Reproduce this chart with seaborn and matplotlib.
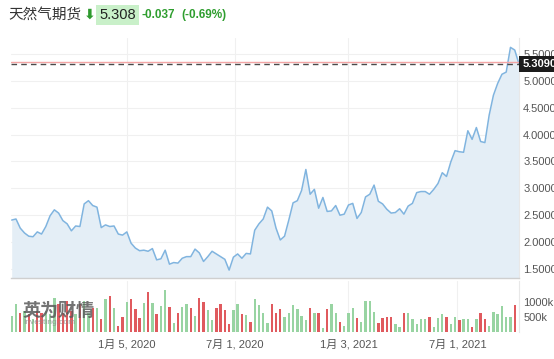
import numpy as np
import pandas as pd
import matplotlib
matplotlib.use("Agg")
import matplotlib.pyplot as plt
import matplotlib.transforms as mtransforms
from matplotlib.ticker import FormatStrFormatter
import seaborn as sns

# ---------------- data ----------------
start_date = "2019-06-30"
price = [2.41, 2.43, 2.26, 2.17, 2.11, 2.10, 2.19, 2.15, 2.29, 2.49,
         2.60, 2.54, 2.40, 2.34, 2.21, 2.30, 2.29, 2.71, 2.77, 2.68,
         2.65, 2.27, 2.32, 2.29, 2.30, 2.15, 2.13, 2.19, 1.98, 1.89,
         1.84, 1.85, 1.83, 1.88, 1.67, 1.69, 1.85, 1.59, 1.62, 1.61,
         1.70, 1.73, 1.73, 1.87, 1.80, 1.64, 1.73, 1.83, 1.78, 1.73,
         1.68, 1.48, 1.72, 1.78, 1.70, 1.79, 1.78, 2.22, 2.34, 2.43,
         2.65, 2.58, 2.26, 2.04, 2.11, 2.41, 2.73, 2.77, 2.96, 3.35,
         2.89, 2.98, 2.63, 2.83, 2.57, 2.58, 2.68, 2.50, 2.52, 2.69,
         2.72, 2.44, 2.55, 2.84, 2.89, 3.06, 2.76, 2.71, 2.61, 2.54,
         2.55, 2.62, 2.52, 2.67, 2.72, 2.92, 2.94, 2.94, 2.89, 2.98,
         3.09, 3.29, 3.22, 3.49, 3.70, 3.68, 3.67, 4.07, 3.91, 4.13,
         3.87, 3.85, 4.36, 4.73, 4.95, 5.12, 5.16, 5.62, 5.57, 5.31]

volume_k = [533, 921, 644, 700, 588, 420, 700, 644, 700, 588,
            1121, 921, 644, 1032, 700, 588, 921, 1032, 644, 810,
            810, 420, 1088, 1199, 810, 200, 500, 1010, 1110, 777,
            455, 955, 1321, 955, 588, 866, 1410, 833, 300, 644,
            833, 921, 810, 533, 1143, 1010, 722, 389, 810, 921,
            722, 278, 722, 921, 611, 566, 333, 1110, 899, 622,
            300, 944, 622, 755, 500, 644, 899, 777, 533, 389,
            810, 622, 622, 144, 777, 921, 622, 333, 200, 644,
            810, 477, 333, 1032, 1032, 677, 300, 477, 511, 511,
            278, 167, 622, 622, 444, 278, 444, 422, 511, 178,
            477, 588, 500, 255, 500, 389, 444, 422, 178, 444,
            644, 422, 200, 677, 611, 866, 500, 500, 899]

direction = list("GGRGRGRRGGGRRRRGRGGRGRGRGRRGRRRGRGRGGRGRGGRGRRGGRRRRGGRGRGGGGRRR"
                 "GGGGGGRGRGRGGRGGGRGGGGRRRRGGRGGGGGRGGGRGGRGGRGRRGGGGGGR")

tick_dates = ["2020-01-05", "2020-07-01", "2021-01-03", "2021-07-01"]
tick_labels = ["1月 5, 2020", "7月 1, 2020", "1月 3, 2021", "7月 1, 2021"]
price_ticks = [1.5, 2.0, 2.5, 3.0, 3.5, 4.0, 4.5, 5.0, 5.5]
vol_ticks = [500, 1000]
vol_tick_labels = ["500k", "1000k"]
last_price = 5.309
prev_close = 5.345
title = "天然气期货"
quote = "5.308"
change = "-0.037"
change_pct = "(-0.69%)"

# ---------------- frames ----------------
dates = pd.date_range(start_date, periods=len(price), freq="7D")
df = pd.DataFrame({"date": dates, "price": price})
vdf = pd.DataFrame({"date": dates[:len(volume_k)], "vol": volume_k,
                    "dir": direction[:len(volume_k)]})

sns.set_style("white")
plt.rcParams["font.family"] = ["Liberation Sans", "Noto Sans CJK SC", "DejaVu Sans"]

W, H = 554, 359
fig = plt.figure(figsize=(W / 100, H / 100), dpi=100)
left = 10.5 / W
width = (519 - 10.5) / W
ax = fig.add_axes([left, 1 - 278 / H, width, 240 / H])
axv = fig.add_axes([left, 1 - 332 / H, width, 51 / H])

xmin = dates[0] - pd.Timedelta(days=2)
xmax = dates[-1]
ymin, ymax = 1.333, 5.794

# ---------------- main price panel ----------------
ax.fill_between(df["date"], df["price"], ymin, color="#e4eef6", lw=0, zorder=1)
sns.lineplot(data=df, x="date", y="price", ax=ax, color="#80b4df", linewidth=1.1, zorder=3)
ax.set_xlim(xmin, xmax)
ax.set_ylim(ymin, ymax)
ax.set_xlabel("")
ax.set_ylabel("")
ax.set_yticks(price_ticks)
ax.yaxis.set_major_formatter(FormatStrFormatter("%.4f"))
ax.yaxis.tick_right()
ax.set_xticks(pd.to_datetime(tick_dates))
ax.tick_params(axis="x", labelbottom=False, length=0)
ax.tick_params(axis="y", labelsize=8, labelcolor="#555555", length=0, pad=3)
ax.grid(True, axis="both", color="#f0f0f0", linewidth=0.8, zorder=0)
ax.set_axisbelow(True)
for s in ["left", "top"]:
    ax.spines[s].set_visible(False)
ax.spines["right"].set_color("#e8e8e8")
ax.spines["right"].set_linewidth(0.8)
ax.spines["bottom"].set_color("#cfcfcf")
ax.spines["bottom"].set_linewidth(1.0)

ax.axhline(prev_close, color="#f4a5a5", lw=1.0, zorder=4)
ax.axhline(last_price, color="#4a4a4a", lw=1.0, ls=(0, (4, 3)), zorder=4)
trans = mtransforms.blended_transform_factory(ax.transAxes, ax.transData)
ax.text(1.0 + 3.5 / (519 - 10.5), last_price, f"{last_price:.4f}", transform=trans,
        color="white", fontsize=8, fontweight="bold", va="center", ha="left",
        bbox=dict(boxstyle="square,pad=0.28", fc="#1c1c1c", ec="none"), zorder=10,
        clip_on=False)

# ---------------- volume panel ----------------
colors = ["#98d4a2" if d == "G" else "#e05a5e" for d in vdf["dir"]]
axv.bar(vdf["date"], vdf["vol"], width=3.9, color=colors, linewidth=0, zorder=2)
axv.set_xlim(xmin, xmax)
axv.set_ylim(0, 1700)
axv.set_yticks(vol_ticks)
axv.set_yticklabels(vol_tick_labels)
axv.yaxis.tick_right()
axv.set_xticks(pd.to_datetime(tick_dates))
axv.set_xticklabels(tick_labels)
axv.tick_params(axis="x", labelsize=8, labelcolor="#555555", length=0, pad=5)
axv.tick_params(axis="y", labelsize=8, labelcolor="#555555", length=0, pad=3)
axv.grid(True, axis="x", color="#f0f0f0", linewidth=0.8, zorder=0)
axv.set_axisbelow(True)
for s in ["left", "top", "bottom"]:
    axv.spines[s].set_visible(False)
axv.spines["right"].set_color("#e8e8e8")
axv.spines["right"].set_linewidth(0.8)

# watermark
fig.text(23 / W, 1 - 310 / H, "英为财情", fontsize=13, fontweight="bold", color="#5a5a5a",
         alpha=0.85, va="center", ha="left", family=["Noto Sans CJK SC", "DejaVu Sans"])
fig.text(23 / W, 1 - 323 / H, "Investing.com", fontsize=6, color="#8a8a8a", alpha=0.8,
         va="center", ha="left")

# ---------------- header ----------------
yc = 1 - 15 / H
fig.text(8 / W, yc, title, fontsize=10.5, color="#333333", va="center", ha="left",
         family=["Noto Sans CJK SC", "DejaVu Sans"])
fig.text(84 / W, yc, "⬇", fontsize=10, fontweight="bold", color="#2e9a2e",
         va="center", ha="left", family=["DejaVu Sans"])
fig.text(99 / W, yc, quote, fontsize=10.5, color="#222222", va="center", ha="left",
         bbox=dict(boxstyle="square,pad=0.2", fc="#c9f0c9", ec="none"))
fig.text(141 / W, yc, change, fontsize=8.5, fontweight="bold", color="#2f9e2f",
         va="center", ha="left")
fig.text(181 / W, yc, change_pct, fontsize=8.5, fontweight="bold", color="#2f9e2f",
         va="center", ha="left")

fig.savefig("out.png", dpi=100)
